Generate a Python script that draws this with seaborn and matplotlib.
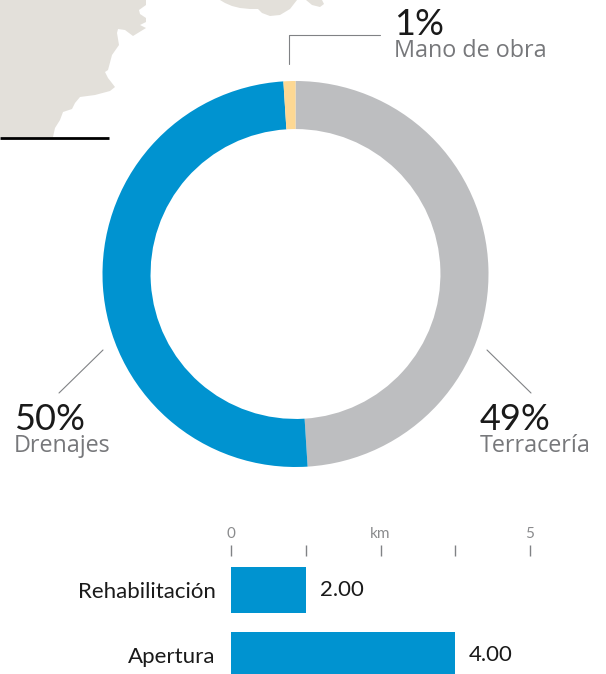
import matplotlib
matplotlib.use("Agg")
import matplotlib.pyplot as plt
import pandas as pd
import seaborn as sns

W, H = 606, 674

# donut
shares = [49, 50, 1]
share_names = ["Terracería", "Drenajes", "Mano de obra"]
share_labels = ["49%", "50%", "1%"]
share_colors = ["#bdbec0", "#0093d0", "#fdd893"]

# bars: the drawn length read against the axis, the printed value as shown
works = ["Rehabilitación", "Apertura"]
bar_lengths = [1.25, 3.75]
bar_labels = ["2.00", "4.00"]
km_ticks = [0, 1.25, 2.5, 3.75, 5]
km_labels = ["0", "", "km", "", "5"]

# background map outline, in pixels
land_left = [(0, 0), (146, 0), (146, 5), (139, 10), (140, 14), (146, 18), (146, 22), (140, 25),
             (146, 28), (133, 36), (125, 30), (118, 29), (117, 33), (119, 45), (112, 55),
             (108, 70), (105, 72), (108, 78), (115, 87), (110, 91), (95, 95), (80, 97),
             (75, 103), (72, 109), (63, 112), (60, 120), (55, 128), (53, 137), (0, 137)]
land_top = [(220, 0), (225, 3), (232, 6), (240, 8), (250, 9), (258, 9), (262, 13), (270, 16),
            (280, 15), (290, 9), (297, 0)]
land_small = [(306, 0), (312, 5), (320, 7), (324, 4), (322, 0)]

sns.set_theme(style="white")
plt.rcParams["font.family"] = ["Lato", "DejaVu Sans"]

GREY_TEXT = "#77787b"
TICK_TEXT = "#8a8b8d"
LEADER = "#808285"
LAND = "#e3e0da"


def px_axes(fig, left, top, width, height, **kw):
    return fig.add_axes([left / W, 1 - (top + height) / H, width / W, height / H], **kw)


fig = plt.figure(figsize=(W / 100, H / 100), dpi=100, facecolor="white")

# pixel overlay for map, leaders and labels
bg = px_axes(fig, 0, 0, W, H)
bg.set_xlim(0, W)
bg.set_ylim(H, 0)
bg.axis("off")
for shape in (land_left, land_top, land_small):
    bg.fill(*zip(*shape), color=LAND, lw=0)
bg.plot([0, 109], [137.5, 137.5], color="black", lw=2, solid_capstyle="butt")
bg.plot([288.5, 288.5, 380], [64, 34.5, 34.5], color=LEADER, lw=0.8)
bg.plot([103, 59], [350, 393], color=LEADER, lw=0.8)
bg.plot([487, 531], [350, 393], color=LEADER, lw=0.8)

# x of each label, y of the percentage baseline and of the name baseline
label_pos = [(480, 430, 452), (14, 430, 452), (394, 35, 57)]
for i, (x, y1, y2) in enumerate(label_pos):
    bg.text(x, y1, share_labels[i], fontsize=26, color="#1a1a1a", ha="left", va="baseline")
    bg.text(x, y2, share_names[i], family="Open Sans", fontsize=16.8, color=GREY_TEXT,
            ha="left", va="baseline")

# donut
pie_ax = px_axes(fig, 102.5, 81, 386, 386)
pie_ax.patch.set_alpha(0)
pie_ax.pie(shares, colors=share_colors, startangle=90, counterclock=False, radius=1,
           wedgeprops={"width": 0.249, "linewidth": 0})
pie_ax.set_xlim(-1, 1)
pie_ax.set_ylim(-1, 1)

# bars
df = pd.DataFrame({"work": works, "km": bar_lengths})
ax = px_axes(fig, 231, 556, 299, 118)
ax.patch.set_alpha(0)
sns.barplot(data=df, x="km", y="work", orient="h", color="#0093d0", saturation=1, width=0.708,
            linewidth=0, edgecolor="none", ax=ax)
ax.set_xlim(0, 5)
ax.set_ylim(1.292, -0.523)
ax.set_xlabel("")
ax.set_ylabel("")
ax.xaxis.tick_top()
ax.set_xticks(km_ticks)
ax.set_xticklabels(km_labels, fontsize=11, color=TICK_TEXT)
ax.tick_params(axis="x", length=8, width=1, color=LEADER, pad=3, top=True, bottom=False)
ax.tick_params(axis="y", length=0, pad=11, labelsize=16, labelcolor="#1a1a1a")
ax.bar_label(ax.containers[0], labels=bar_labels, padding=10, fontsize=16, color="#1a1a1a")
for side in ax.spines.values():
    side.set_visible(False)

fig.savefig("out.png", dpi=100)
